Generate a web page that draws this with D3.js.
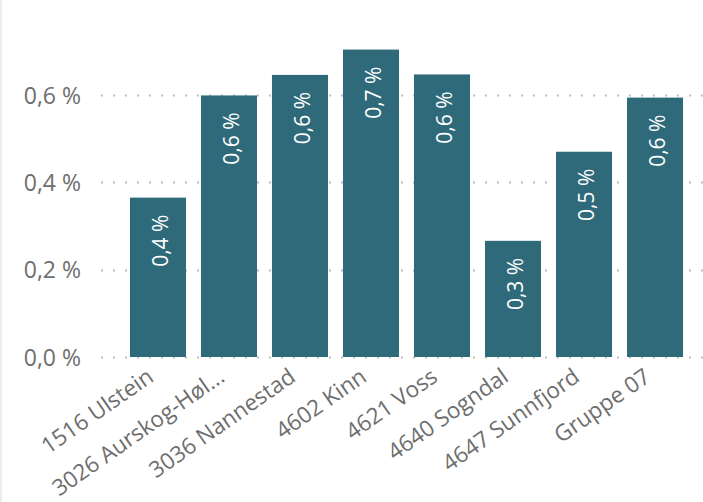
<!DOCTYPE html>
<html><head><meta charset="utf-8">
<script src="https://cdn.jsdelivr.net/npm/d3@7"></script>
<style>html,body{margin:0;padding:0;background:#fff;}svg{display:block;}</style>
</head><body><svg id="c" width="703" height="502"></svg>
<script>
const categories = ["1516 Ulstein","3026 Aurskog-Høl...","3036 Nannestad","4602 Kinn","4621 Voss","4640 Sogndal","4647 Sunnfjord","Gruppe 07"];
const values = [0.365, 0.599, 0.646, 0.704, 0.647, 0.266, 0.470, 0.594];
const yTicks = [0, 0.2, 0.4, 0.6];

const svg = d3.select("#c");
const W = 703, H = 502;
const font = "'Open Sans', 'Noto Sans', sans-serif";
const barColor = "#2f6a7a";
const textColor = "#6e6e6e";

const x = d3.scaleBand().domain(categories).range([122.5, 690.5]).paddingInner(0.211).paddingOuter(0.105);
const y = d3.scaleLinear().domain([0, 0.8]).range([357, 357 - 0.8 * 436.7]);
const fmt = v => d3.format(".1f")(v).replace(".", ",") + " %";

// left frame line
svg.append("line").attr("x1", 1).attr("x2", 1).attr("y1", 0).attr("y2", H)
  .attr("stroke", "#ececec").attr("stroke-width", 2);

// gridlines
svg.append("g").selectAll("line").data(yTicks).join("line")
  .attr("x1", 101).attr("x2", W)
  .attr("y1", d => Math.round(y(d)) + 0.5).attr("y2", d => Math.round(y(d)) + 0.5)
  .attr("stroke", "#bdbdbd").attr("stroke-width", 2)
  .attr("stroke-dasharray", "2,10");

// y axis
const yAxis = d3.axisLeft(y).tickValues(yTicks).tickFormat(fmt).tickSize(0).tickPadding(0);
const gy = svg.append("g").attr("transform", "translate(81,0)").call(yAxis);
gy.select(".domain").remove();
gy.selectAll("text").attr("fill", textColor).style("font-family", font).style("font-size", "23px").attr("dy", "0.35em");

// bars
svg.append("g").selectAll("rect").data(values).join("rect")
  .attr("x", (d, i) => x(categories[i]))
  .attr("width", x.bandwidth())
  .attr("y", d => y(d))
  .attr("height", d => y(0) - y(d))
  .attr("fill", barColor);

// data labels
svg.append("g").selectAll("text").data(values).join("text")
  .attr("transform", (d, i) => `translate(${x(categories[i]) + x.bandwidth() / 2 + 10},${y(d) + 17}) rotate(-90)`)
  .attr("text-anchor", "end")
  .attr("fill", "#ffffff")
  .style("font-family", font).style("font-size", "21px")
  .text(d => fmt(d));

// x axis
const xAxis = d3.axisBottom(x).tickSize(0).tickPadding(0);
const gx = svg.append("g").call(xAxis);
gx.select(".domain").remove();
gx.selectAll(".tick").attr("transform", d => `translate(${x(d) + x.bandwidth() / 2 - 3},380)`);
gx.selectAll("text")
  .attr("y", 0).attr("dy", 0)
  .attr("transform", "rotate(-35)")
  .attr("text-anchor", "end")
  .attr("fill", textColor)
  .style("font-family", font).style("font-size", "22.5px");
</script>
</body></html>
